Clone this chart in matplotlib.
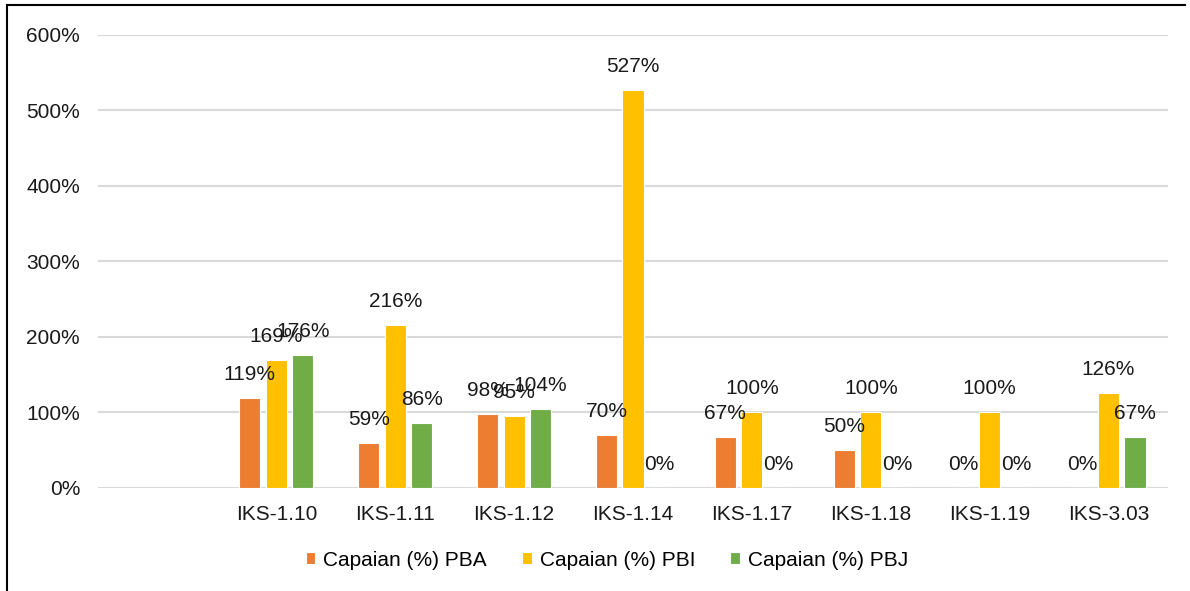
import numpy as np
import matplotlib.pyplot as plt
from matplotlib.lines import Line2D

plt.rcParams['font.family'] = ['Liberation Sans', 'DejaVu Sans']

# first slot is left empty on the category axis
categories = ["", "IKS-1.10", "IKS-1.11", "IKS-1.12", "IKS-1.14",
              "IKS-1.17", "IKS-1.18", "IKS-1.19", "IKS-3.03"]
pba = [np.nan, 119, 59, 98, 70, 67, 50, 0, 0]
pbi = [np.nan, 169, 216, 95, 527, 100, 100, 100, 126]
pbj = [np.nan, 176, 86, 104, 0, 0, 0, 0, 67]
series_names = ["Capaian (%) PBA", "Capaian (%) PBI", "Capaian (%) PBJ"]
colors = ["#ED7D31", "#FFC000", "#70AD47"]

fig = plt.figure(figsize=(11.9, 5.91), dpi=100)
ax = fig.add_axes([0.0824, 0.1743, 0.8991, 0.7665])

x = np.arange(len(categories))
width = 0.178
step = 0.223
handles = []
for i, (vals, name, col) in enumerate(zip([pba, pbi, pbj], series_names, colors)):
    pos = x + (i - 1) * step
    bars = ax.bar(pos, vals, width, color=col, edgecolor='white',
                  linewidth=0.8, label=name, zorder=3)
    handles.append(bars)
    for p, v in zip(pos, vals):
        if np.isnan(v):
            continue
        ax.annotate(f"{v:.0f}%", (p, v), xytext=(0, 17), textcoords='offset points',
                    ha='center', va='center', fontsize=15, color='#1a1a1a',
                    zorder=4)

ax.set_xlim(-0.5, len(categories) - 0.5)
ax.set_ylim(0, 600)
ax.set_yticks(range(0, 601, 100))
ax.set_yticklabels([f"{t}%" for t in range(0, 601, 100)])
ax.set_xticks(x)
ax.set_xticklabels(categories)
ax.tick_params(axis='both', length=0, labelsize=15, colors='#1a1a1a')
ax.tick_params(axis='y', pad=13)
ax.tick_params(axis='x', pad=12)
ax.yaxis.grid(True, color='#d9d9d9', linewidth=1.5, zorder=0)
ax.set_axisbelow(True)
for s in ax.spines.values():
    s.set_visible(False)

fig.legend(handles=handles, loc='center', bbox_to_anchor=(607 / 1190, 1 - 560 / 591),
           ncol=3, frameon=False, fontsize=15, handlelength=0.45, handleheight=0.45,
           handletextpad=0.38, columnspacing=1.7)

# partial frame around the chart area
fig.add_artist(Line2D([7 / 1190, 7 / 1190], [0, 1 - 5 / 591], color='black',
                      linewidth=1.5, transform=fig.transFigure))
fig.add_artist(Line2D([7 / 1190, 1185 / 1190], [1 - 5 / 591, 1 - 5 / 591],
                      color='black', linewidth=1.5, transform=fig.transFigure))

fig.savefig("out.png", dpi=100)
